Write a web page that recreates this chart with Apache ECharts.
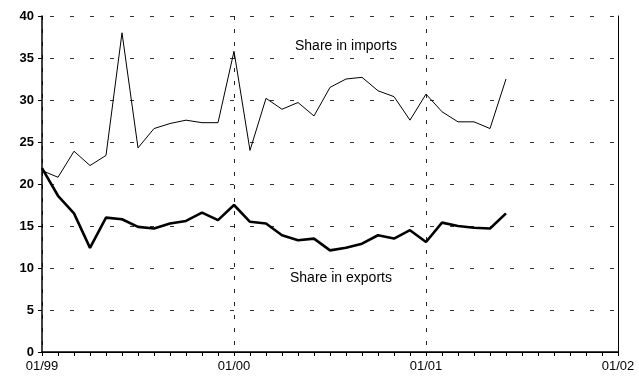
<!DOCTYPE html>
<html>
<head>
<meta charset="utf-8">
<script src="https://cdn.jsdelivr.net/npm/echarts@6/dist/echarts.min.js"></script>
<style>
  html, body { margin: 0; padding: 0; background: #fff; }
</style>
</head>
<body>
<div id="chart" style="width:639px;height:380px"></div>
<script>
// monthly categories 01/99 .. 01/02
const months = [
  "01/99","02/99","03/99","04/99","05/99","06/99","07/99","08/99","09/99","10/99","11/99","12/99",
  "01/00","02/00","03/00","04/00","05/00","06/00","07/00","08/00","09/00","10/00","11/00","12/00",
  "01/01","02/01","03/01","04/01","05/01","06/01","07/01","08/01","09/01","10/01","11/01","12/01",
  "01/02"
];
// share in imports (thin line)
const importsShare = [
  21.6, 20.8, 23.9, 22.2, 23.4, 38.0, 24.3, 26.6, 27.2, 27.6, 27.3, 27.3,
  35.8, 24.0, 30.2, 28.9, 29.7, 28.1, 31.5, 32.5, 32.7, 31.1, 30.4, 27.6,
  30.7, 28.6, 27.4, 27.4, 26.6, 32.5
];
// share in exports (thick line)
const exportsShare = [
  21.9, 18.6, 16.5, 12.4, 16.0, 15.8, 14.9, 14.7, 15.3, 15.6, 16.6, 15.7,
  17.5, 15.5, 15.3, 13.9, 13.3, 13.5, 12.1, 12.4, 12.9, 13.9, 13.5, 14.5,
  13.1, 15.4, 15.0, 14.8, 14.7, 16.5
];
const yTicks = { min: 0, max: 40, interval: 5 };

let chart = echarts.init(document.getElementById("chart"));
let options = {
  animation: false,
  backgroundColor: "#fff",
  grid: { left: 42, right: 21, top: 16, bottom: 28 },
  xAxis: [
    {
      type: "category",
      data: months,
      boundaryGap: false,
      axisLine: { lineStyle: { color: "#000", width: 1.5 } },
      axisTick: { interval: 0, length: 4, lineStyle: { color: "#000" } },
      axisLabel: {
        interval: 11,
        color: "#000",
        fontFamily: "Liberation Sans",
        fontSize: 13,
        margin: 8
      },
      splitLine: {
        show: true,
        interval: 11,
        lineStyle: { color: "#222", type: [4, 9], width: 1 }
      }
    },
    {
      // top border
      type: "category",
      data: months,
      position: "top",
      boundaryGap: false,
      axisLine: { lineStyle: { color: "#000", width: 1 } },
      axisTick: { show: false },
      axisLabel: { show: false },
      splitLine: { show: false }
    }
  ],
  yAxis: [
    {
      type: "value",
      min: yTicks.min,
      max: yTicks.max,
      interval: yTicks.interval,
      axisLine: { show: true, lineStyle: { color: "#000", width: 1.5 } },
      axisTick: { show: true, length: 4, lineStyle: { color: "#000" } },
      axisLabel: {
        color: "#000",
        fontFamily: "Liberation Sans",
        fontWeight: "bold",
        fontSize: 13,
        margin: 8
      },
      splitLine: { lineStyle: { color: "#333", type: [4, 16], dashOffset: -8, width: 1 } }
    },
    {
      // right border
      type: "value",
      position: "right",
      min: yTicks.min,
      max: yTicks.max,
      interval: yTicks.interval,
      axisLine: { show: true, lineStyle: { color: "#000", width: 1 } },
      axisTick: { show: false },
      axisLabel: { show: false },
      splitLine: { show: false }
    }
  ],
  graphic: [
    {
      type: "text",
      left: 295,
      top: 39,
      style: { text: "Share in imports", fill: "#000", font: "14px 'Liberation Sans'" }
    },
    {
      type: "text",
      left: 290,
      top: 271,
      style: { text: "Share in exports", fill: "#000", font: "14px 'Liberation Sans'" }
    }
  ],
  series: [
    {
      name: "Share in imports",
      type: "line",
      data: importsShare,
      symbol: "none",
      lineStyle: { color: "#000", width: 1 },
      z: 3
    },
    {
      name: "Share in exports",
      type: "line",
      data: exportsShare,
      symbol: "none",
      lineStyle: { color: "#000", width: 2.6 },
      z: 4
    }
  ]
};
chart.setOption(options);
</script>
</body>
</html>
